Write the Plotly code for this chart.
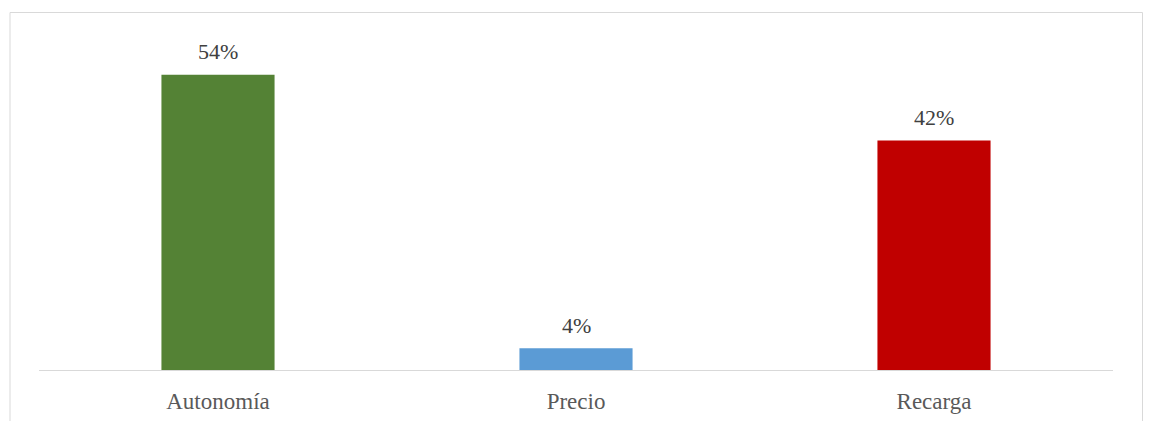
import plotly.graph_objects as go

categories = ["Autonomía", "Precio", "Recarga"]
values = [0.54, 0.04, 0.42]
labels = ["54%", "4%", "42%"]
colors = ["#548235", "#5B9BD5", "#C00000"]

W, H = 1149, 421
ml, mr, mt, mb = 39, 36, 42, 51
ymax = 0.6
pw = W - ml - mr
ph = H - mt - mb

fig = go.Figure()
fig.add_trace(go.Bar(
    x=categories, y=values, marker=dict(color=colors, line=dict(width=0)),
    hoverinfo="skip",
))

for c, v, t in zip(categories, values, labels):
    fig.add_annotation(x=c, y=v, text=t, showarrow=False, yanchor="middle",
                       yshift=23, font=dict(family="Liberation Serif", size=22, color="#404040"))

def px_x(p):
    return (p - ml) / pw

def px_y(p):
    return (H - mb - p) / ph

fig.add_shape(type="rect", xref="paper", yref="paper",
              x0=px_x(10), x1=px_x(1142.5), y0=px_y(440), y1=px_y(12.5),
              line=dict(color="#D9D9D9", width=1), fillcolor="rgba(0,0,0,0)", layer="below")

fig.update_layout(
    width=W, height=H,
    margin=dict(l=ml, r=mr, t=mt, b=mb, autoexpand=False),
    paper_bgcolor="white", plot_bgcolor="white",
    bargap=0.684,
    showlegend=False,
    font=dict(family="Liberation Serif", size=22, color="#595959"),
    xaxis=dict(showline=True, linecolor="#D9D9D9", linewidth=1, ticks="",
               showgrid=False, zeroline=False, automargin=False,
               tickfont=dict(family="Liberation Serif", size=23, color="#595959"),
               ticklabelstandoff=10),
    yaxis=dict(range=[0, ymax], visible=False, showgrid=False, zeroline=False,
               automargin=False),
)

fig.write_html("out.html")
